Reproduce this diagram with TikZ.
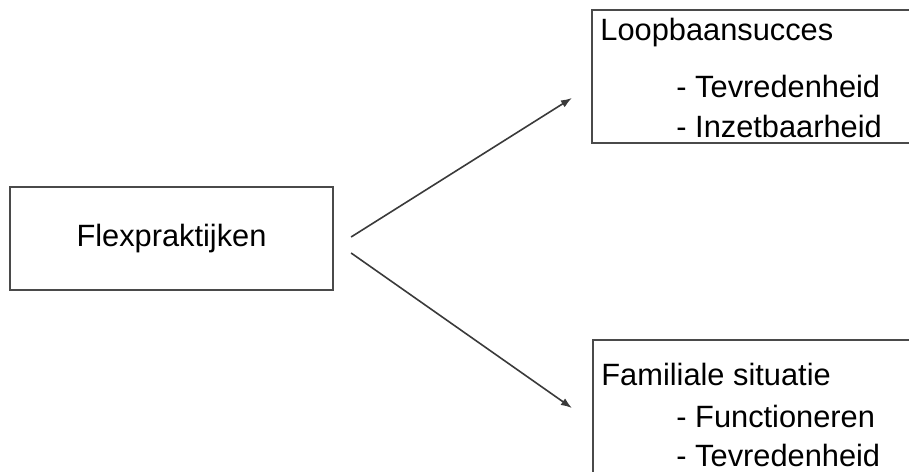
\documentclass[tikz,border=0pt]{standalone}
\usepackage{fontspec}
\setmainfont{Liberation Sans}
\usetikzlibrary{arrows.meta}
\definecolor{boxgray}{HTML}{4A4A4A}
\definecolor{linegray}{HTML}{3A3A3A}
\tikzset{
  box/.style={draw=boxgray, line width=1.1pt, rectangle, inner sep=0pt},
  txt/.style={inner sep=0pt, anchor=base west, font=\fontsize{15.4}{18}\selectfont},
  conn/.style={draw=linegray, line width=0.8pt, -{Latex[length=5.5pt,width=4pt]}}
}
\begin{document}
\begin{tikzpicture}[x=0.5pt,y=-0.5pt]
    \useasboundingbox (0,0) rectangle (909,471);
    \clip (0,0) rectangle (909,471);
    % boxes
    \node[box, minimum width=161.5pt, minimum height=51.5pt,
          font=\fontsize{15.4}{18}\selectfont] (flex) at (171.5,238.5) {Flexpraktijken};
    \node[box, minimum width=161.5pt, minimum height=66.5pt] (loop) at (753.5,76.5) {};
    \node[box, minimum width=161pt, minimum height=70pt] (fam) at (754,410) {};
    % box texts
    \node[txt] (loopt) at (600,40) {Loopbaansucces};
    \node[txt] (loopa) at (676,97) {- Tevredenheid};
    \node[txt] (loopb) at (676,137) {- Inzetbaarheid};
    \node[txt] (famt) at (601,385) {Familiale situatie};
    \node[txt] (fama) at (676,427) {- Functioneren};
    \node[txt] (famb) at (676,466) {- Tevredenheid};
    % arrows
    \coordinate (f1) at ([xshift=8.5pt,yshift=0.75pt]flex.east);
    \coordinate (f2) at ([xshift=8.5pt,yshift=-7.25pt]flex.east);
    \coordinate (l1) at ([xshift=-9.5pt,yshift=-10.75pt]loop.west);
    \coordinate (s2) at ([xshift=-10pt,yshift=1pt]fam.west);
    \draw[conn] (f1) -- (l1);
    \draw[conn] (f2) -- (s2);
\end{tikzpicture}
\end{document}
